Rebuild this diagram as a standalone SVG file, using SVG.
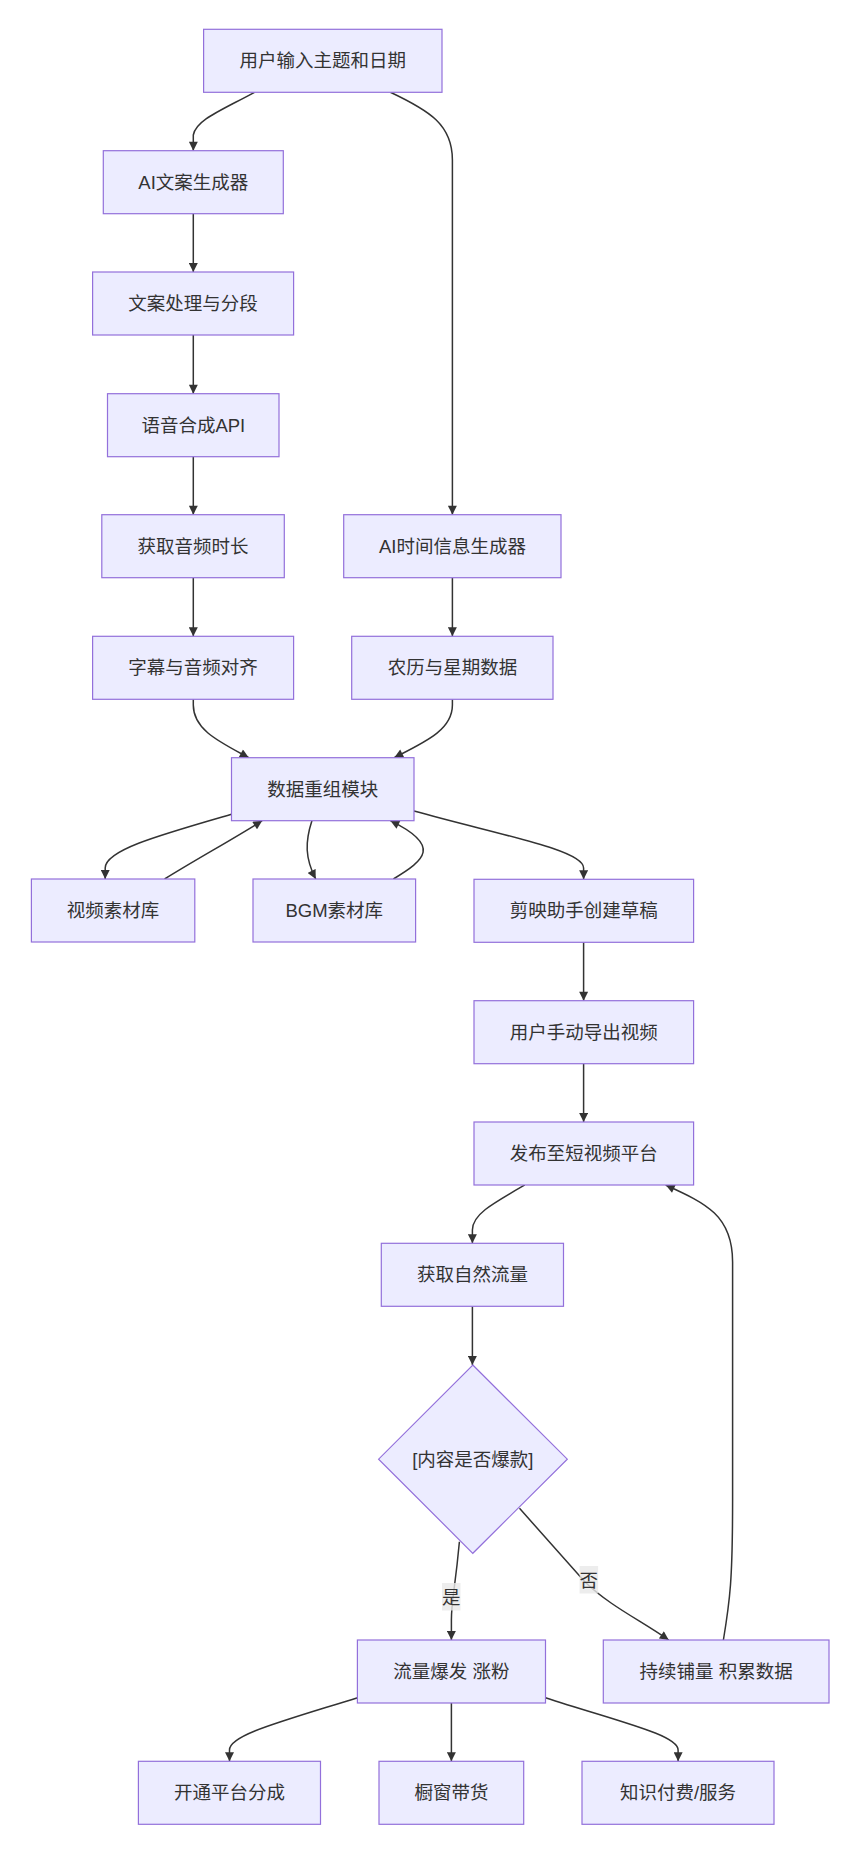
<svg xmlns="http://www.w3.org/2000/svg" width="860" height="1868" viewBox="0 0 860 1868">
<style>
.n rect,.n polygon{fill:#ECECFF;stroke:#9370DB;stroke-width:1.2}
text{font-family:"Liberation Sans","Noto Sans CJK SC",sans-serif;font-size:18.5px;fill:#333333;text-anchor:middle;dominant-baseline:central}
.e path{fill:none;stroke:#333333;stroke-width:1.5;marker-end:url(#ah)}
.lb{fill:rgba(232,232,232,0.8)}
</style>
<defs>
<marker id="ah" viewBox="0 0 10 10" refX="10" refY="5" markerUnits="userSpaceOnUse" markerWidth="10" markerHeight="9" orient="auto">
<path d="M0,0 L10,5 L0,10 z" fill="#333333"/>
</marker>
</defs>
<rect width="860" height="1868" fill="#ffffff"/>
<g id="edges" class="e">
<path d="M254.5,92.3 C220,111 196,120 193.3,135 L193.3,150.7"/>
<path d="M390.4,92.3 C430,111 452.4,125 452.4,160 L452.4,514.7"/>
<path d="M193.3,213.7 L193.3,272"/>
<path d="M193.3,335 L193.3,393.7"/>
<path d="M193.3,456.3 L193.3,514.7"/>
<path d="M193.3,578 L193.3,636.3"/>
<path d="M452.4,578 L452.4,636.3"/>
<path d="M193.3,699.3 L193.3,705 C193.3,730 220,742 248.8,757.7"/>
<path d="M452.4,699.3 L452.4,705 C452.4,730 425,742 394.2,757.7"/>
<path d="M231.5,814.3 C160,835 105.2,850 105.2,868 L105.2,879"/>
<path d="M164.6,879 C195,860 235,838 262.2,820.7"/>
<path d="M311.9,820.7 C305,842 305,858 315.7,879"/>
<path d="M393.4,879 C425,860 442,846 390.4,820.7"/>
<path d="M414,811 C500,835 583.6,850 583.6,868 L583.6,879.3"/>
<path d="M583.6,942.3 L583.6,1000.7"/>
<path d="M583.6,1063.7 L583.6,1122"/>
<path d="M524.8,1185 C490,1205 472.4,1215 472.4,1230 L472.4,1243.3"/>
<path d="M472.4,1306.3 L472.4,1365"/>
<path d="M459.4,1541.7 C455,1590 451.4,1600 451.4,1620 L451.4,1640"/>
<path d="M519.5,1508.3 L585,1582 C610,1606 640,1620 668.7,1640"/>
<path d="M723.4,1640 C730,1600 732.6,1580 732.6,1500 L732.6,1262 C732.6,1215 705,1203 665.7,1185"/>
<path d="M357.6,1697.7 C280,1722 229.5,1735 229.5,1750 L229.5,1761.3"/>
<path d="M451.4,1703 L451.4,1761.3"/>
<path d="M545.5,1697.7 C620,1722 678.1,1735 678.1,1750 L678.1,1761.3"/>
<rect class="lb" x="442" y="1583" width="18.5" height="27.5"/>
<text x="451.2" y="1597">是</text>
<rect class="lb" x="579.6" y="1566" width="18.5" height="27.5"/>
<text x="588.8" y="1580">否</text>
</g>
<g id="n1" class="n"><rect x="203.6" y="29.3" width="238.4" height="63"/><text x="322.8" y="60.8">用户输入主题和日期</text></g>
<g id="n2" class="n"><rect x="103.3" y="150.7" width="180" height="63"/><text x="193.3" y="182.2">AI文案生成器</text></g>
<g id="n3" class="n"><rect x="92.6" y="272" width="201" height="63"/><text x="193.1" y="303.5">文案处理与分段</text></g>
<g id="n4" class="n"><rect x="107.5" y="393.7" width="171.5" height="63"/><text x="193.3" y="425.2">语音合成API</text></g>
<g id="n5" class="n"><rect x="101.8" y="514.7" width="182.5" height="63"/><text x="193.1" y="546.2">获取音频时长</text></g>
<g id="n6" class="n"><rect x="343.7" y="514.7" width="217.3" height="63"/><text x="452.4" y="546.2">AI时间信息生成器</text></g>
<g id="n7" class="n"><rect x="92.6" y="636.3" width="201" height="63"/><text x="193.1" y="667.8">字幕与音频对齐</text></g>
<g id="n8" class="n"><rect x="351.7" y="636.3" width="201.3" height="63"/><text x="452.4" y="667.8">农历与星期数据</text></g>
<g id="n9" class="n"><rect x="231.5" y="757.7" width="182.5" height="63"/><text x="322.8" y="789.2">数据重组模块</text></g>
<g id="n10" class="n"><rect x="31.4" y="879" width="163.4" height="63"/><text x="113.1" y="910.5">视频素材库</text></g>
<g id="n11" class="n"><rect x="253" y="879" width="162.6" height="63"/><text x="334.3" y="910.5">BGM素材库</text></g>
<g id="n12" class="n"><rect x="474" y="879.3" width="219.6" height="63"/><text x="583.8" y="910.8">剪映助手创建草稿</text></g>
<g id="n13" class="n"><rect x="474" y="1000.7" width="219.6" height="63"/><text x="583.8" y="1032.2">用户手动导出视频</text></g>
<g id="n14" class="n"><rect x="474" y="1122" width="219.6" height="63"/><text x="583.8" y="1153.5">发布至短视频平台</text></g>
<g id="n15" class="n"><rect x="381.3" y="1243.3" width="182.2" height="63"/><text x="472.4" y="1274.8">获取自然流量</text></g>
<g id="n16" class="n"><polygon points="472.8,1365 567.3,1459.2 472.8,1553.3 378.6,1459.2"/><text x="472.8" y="1459.2">[内容是否爆款]</text></g>
<g id="n17" class="n"><rect x="357.4" y="1640" width="188.1" height="63"/><text x="451.4" y="1671.5">流量爆发 涨粉</text></g>
<g id="n18" class="n"><rect x="603.3" y="1640" width="225.7" height="63"/><text x="716.1" y="1671.5">持续铺量 积累数据</text></g>
<g id="n19" class="n"><rect x="138.4" y="1761.3" width="182.1" height="63"/><text x="229.5" y="1792.8">开通平台分成</text></g>
<g id="n20" class="n"><rect x="379" y="1761.3" width="144.7" height="63"/><text x="451.4" y="1792.8">橱窗带货</text></g>
<g id="n21" class="n"><rect x="582" y="1761.3" width="192" height="63"/><text x="678" y="1792.8">知识付费/服务</text></g>
</svg>
